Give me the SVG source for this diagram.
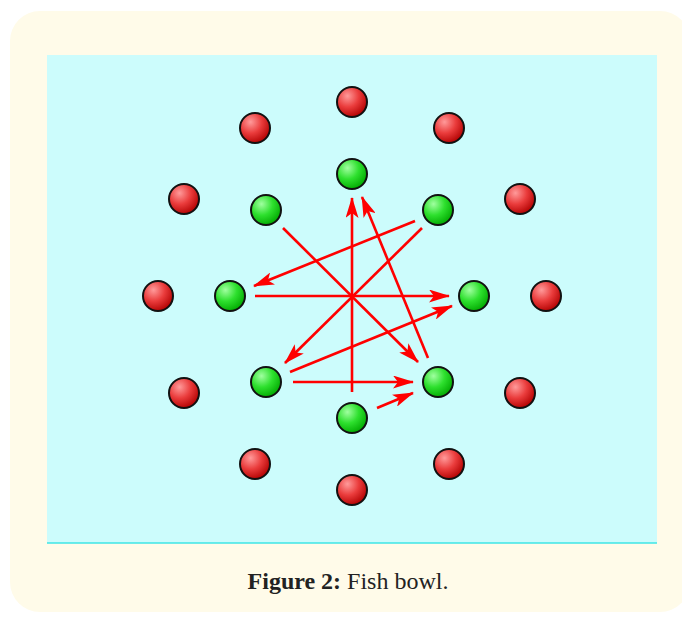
<svg xmlns="http://www.w3.org/2000/svg" width="682" height="618" viewBox="0 0 682 618">
<defs>
<radialGradient id="gRed" cx="0.35" cy="0.3" r="0.75">
<stop offset="0" stop-color="#ff9a9a"/>
<stop offset="0.5" stop-color="#ea3c3c"/>
<stop offset="1" stop-color="#b00000"/>
</radialGradient>
<radialGradient id="gGreen" cx="0.35" cy="0.3" r="0.75">
<stop offset="0" stop-color="#a0ffa0"/>
<stop offset="0.5" stop-color="#2ee02e"/>
<stop offset="1" stop-color="#00a800"/>
</radialGradient>
<marker id="ah" markerUnits="userSpaceOnUse" viewBox="0 0 21 13" refX="20" refY="6.5" markerWidth="21" markerHeight="13" orient="auto">
<path d="M0,0 L21,6.5 L0,13 L5,6.5 Z" fill="#ff0000"/>
</marker>
</defs>
<style>
.red{fill:url(#gRed);stroke:#111;stroke-width:2}
.green{fill:url(#gGreen);stroke:#111;stroke-width:2}
.arr{stroke:#ff0000;stroke-width:2.6;fill:none;marker-end:url(#ah)}
.cap{font-family:"Liberation Serif","DejaVu Serif",serif;font-size:24px;fill:#222}
</style>
<rect x="10" y="11" width="680" height="601" rx="30" fill="#fffbe9"/>
<rect x="47" y="55" width="610" height="488" fill="#ccfcfc"/>
<line x1="47" y1="543" x2="657" y2="543" stroke="#3ee6e6" stroke-width="1.5"/>
<g id="red-balls">
<circle id="r1" class="red" cx="352" cy="102" r="15"/>
<circle id="r2" class="red" cx="449" cy="128" r="15"/>
<circle id="r3" class="red" cx="520" cy="199" r="15"/>
<circle id="r4" class="red" cx="546" cy="296" r="15"/>
<circle id="r5" class="red" cx="520" cy="393" r="15"/>
<circle id="r6" class="red" cx="449" cy="464" r="15"/>
<circle id="r7" class="red" cx="352" cy="490" r="15"/>
<circle id="r8" class="red" cx="255" cy="464" r="15"/>
<circle id="r9" class="red" cx="184" cy="393" r="15"/>
<circle id="r10" class="red" cx="158" cy="296" r="15"/>
<circle id="r11" class="red" cx="184" cy="199" r="15"/>
<circle id="r12" class="red" cx="255" cy="128" r="15"/>
</g>
<g id="green-balls">
<circle id="g1" class="green" cx="352" cy="174" r="15"/>
<circle id="g2" class="green" cx="438" cy="210" r="15"/>
<circle id="g3" class="green" cx="474" cy="296" r="15"/>
<circle id="g4" class="green" cx="438" cy="382" r="15"/>
<circle id="g5" class="green" cx="352" cy="418" r="15"/>
<circle id="g6" class="green" cx="266" cy="382" r="15"/>
<circle id="g7" class="green" cx="230" cy="296" r="15"/>
<circle id="g8" class="green" cx="266" cy="210" r="15"/>
</g>
<g id="connectors">
<line class="arr" x1="352" y1="392" x2="352" y2="198"/>
<line class="arr" x1="283" y1="228" x2="418" y2="362"/>
<line class="arr" x1="422" y1="228" x2="285" y2="363"/>
<line class="arr" x1="415" y1="221" x2="254" y2="286"/>
<line class="arr" x1="255" y1="296" x2="449" y2="296"/>
<line class="arr" x1="428" y1="358" x2="362" y2="197"/>
<line class="arr" x1="290" y1="372" x2="452" y2="306"/>
<line class="arr" x1="293" y1="382" x2="413" y2="382"/>
<line class="arr" x1="377" y1="408" x2="413" y2="393"/>
</g>
<text class="cap" x="348" y="589" text-anchor="middle"><tspan font-weight="bold">Figure 2:</tspan> Fish bowl.</text>
</svg>
